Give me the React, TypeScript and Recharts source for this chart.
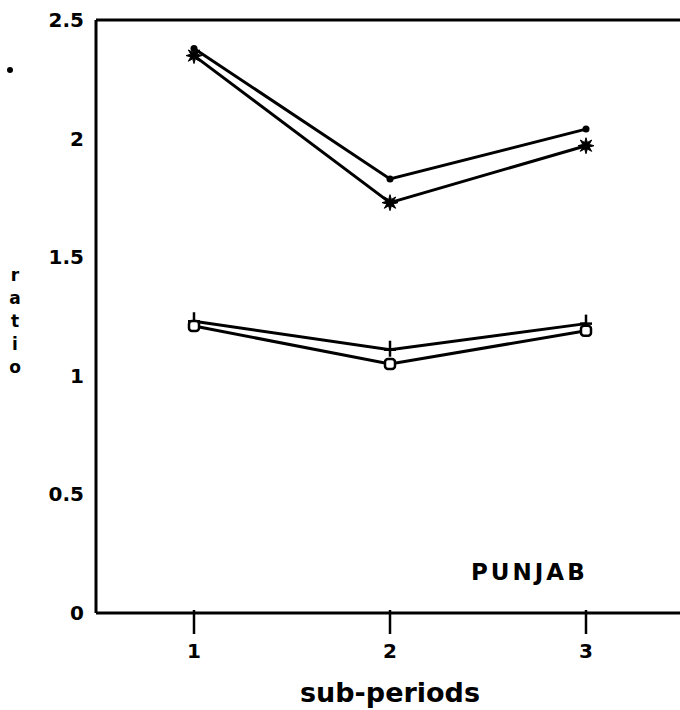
import { LineChart, Line, XAxis, YAxis, ReferenceLine } from "recharts";

const periods = [1, 2, 3];
const seriesDot = [2.38, 1.83, 2.04];
const seriesStar = [2.35, 1.73, 1.97];
const seriesPlus = [1.23, 1.11, 1.22];
const seriesSquare = [1.21, 1.05, 1.19];
const yTicks = [0, 0.5, 1, 1.5, 2, 2.5];
const xTicks = [1, 2, 3];

const data = periods.map((p, i) => ({
  period: p,
  dot: seriesDot[i],
  star: seriesStar[i],
  plus: seriesPlus[i],
  square: seriesSquare[i],
}));

const FONT = "'DejaVu Sans', sans-serif";

const starPath = (cx: number, cy: number) => {
  const pts: string[] = [];
  for (let k = 0; k < 16; k++) {
    const r = k % 2 === 0 ? 8 : 3.5;
    const a = (Math.PI * k) / 8;
    pts.push(`${cx + r * Math.sin(a)},${cy - r * Math.cos(a)}`);
  }
  return "M" + pts.join("L") + "Z";
};

const DotMark = (props: any) => {
  const { cx, cy, index } = props;
  return <circle key={index} cx={cx} cy={cy} r={3.5} fill="#000" />;
};

const StarMark = (props: any) => {
  const { cx, cy, index } = props;
  return <path key={index} d={starPath(cx, cy)} fill="#000" stroke="#000" strokeWidth={1} />;
};

const PlusMark = (props: any) => {
  const { cx, cy, index } = props;
  return (
    <g key={index} stroke="#000" strokeWidth={2.5}>
      <line x1={cx} y1={cy - 9} x2={cx} y2={cy + 7} />
      <line x1={cx - 6} y1={cy} x2={cx + 6} y2={cy} />
    </g>
  );
};

const SquareMark = (props: any) => {
  const { cx, cy, index } = props;
  return (
    <rect key={index} x={cx - 5} y={cy - 5} width={10} height={10} rx={3} fill="#fff" stroke="#000" strokeWidth={2.5} />
  );
};

const YTick = (props: any) => {
  const { x, y, payload } = props;
  return (
    <text x={x - 10} y={y} dy={7} textAnchor="end" fontFamily={FONT} fontWeight="bold" fontSize={20} fill="#000">
      {payload.value}
    </text>
  );
};

const XTick = (props: any) => {
  const { x, y, payload } = props;
  return (
    <g>
      <line x1={x} y1={y - 11} x2={x} y2={y + 13} stroke="#000" strokeWidth={2.5} />
      <text x={x} y={y + 37} textAnchor="middle" fontFamily={FONT} fontWeight="bold" fontSize={20} fill="#000">
        {payload.value}
      </text>
    </g>
  );
};

const lineStyle = { stroke: "#000", strokeWidth: 3, isAnimationActive: false, type: "linear" as const };

export default function App() {
  return (
    <div style={{ position: "absolute", left: 0, top: 0, width: 680, height: 710, overflow: "hidden", background: "#fff" }}>
      <LineChart width={684} height={710} data={data} margin={{ top: 20, right: 0, left: 0, bottom: 0 }}>
        <XAxis
          dataKey="period"
          type="number"
          domain={[0.5, 3.5]}
          ticks={xTicks}
          tick={<XTick />}
          tickLine={false}
          axisLine={{ stroke: "#000", strokeWidth: 3 }}
          height={97}
          label={{
            value: "sub-periods",
            position: "insideBottom",
            offset: 8,
            fontFamily: FONT,
            fontWeight: "bold",
            fontSize: 27,
            fill: "#000",
          }}
        />
        <YAxis
          type="number"
          domain={[0, 2.5]}
          ticks={yTicks}
          tick={<YTick />}
          tickLine={false}
          tickSize={0}
          axisLine={{ stroke: "#000", strokeWidth: 3 }}
          width={96}
        />
        {/* mirrored axis only for the short inward tick marks */}
        <YAxis
          yAxisId="marks"
          type="number"
          domain={[0, 2.5]}
          ticks={[0.5, 1, 1.5, 2]}
          mirror
          tick={false}
          tickSize={10}
          tickLine={{ stroke: "#000", strokeWidth: 2.5 }}
          axisLine={false}
        />
        <ReferenceLine y={2.5} stroke="#000" strokeWidth={3} />
        <Line dataKey="dot" {...lineStyle} dot={<DotMark />} />
        <Line dataKey="star" {...lineStyle} dot={<StarMark />} />
        <Line dataKey="plus" {...lineStyle} dot={<PlusMark />} />
        <Line dataKey="square" {...lineStyle} dot={<SquareMark />} />
      </LineChart>
      <div
        style={{
          position: "absolute",
          left: 6,
          top: 264,
          width: 18,
          fontFamily: FONT,
          fontWeight: "bold",
          fontSize: 17,
          lineHeight: "23px",
          textAlign: "center",
        }}
      >
        {"ratio".split("").map((c, i) => (
          <div key={i}>{c}</div>
        ))}
      </div>
      <div style={{ position: "absolute", left: 7, top: 67, width: 6, height: 6, borderRadius: 3, background: "#000" }} />
      <div
        style={{
          position: "absolute",
          left: 471,
          top: 559,
          fontFamily: FONT,
          fontWeight: "bold",
          fontSize: 23,
          letterSpacing: 3,
        }}
      >
        PUNJAB
      </div>
    </div>
  );
}
